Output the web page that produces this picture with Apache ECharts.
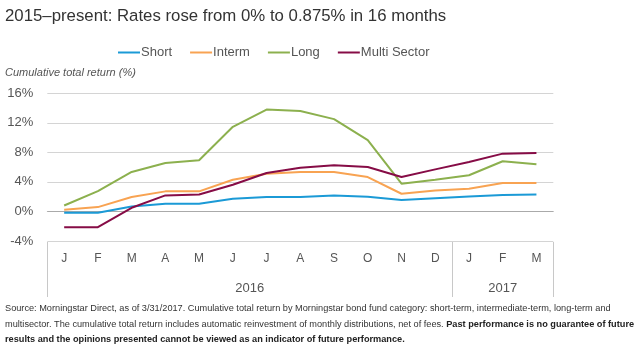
<!DOCTYPE html>
<html><head><meta charset="utf-8">
<script src="https://cdn.jsdelivr.net/npm/echarts@6/dist/echarts.min.js"></script>
<style>html,body{margin:0;padding:0;background:#fff}#c{width:640px;height:349px}</style>
</head><body><div id="c"></div>
<script>
const months = ['J','F','M','A','M','J','J','A','S','O','N','D','J','F','M'];
const years = ['2016','2017'];
const yearCenters = [6, 13.5];
const yearBounds = [0, 12, 15];
const yTicks = [-4, 0, 4, 8, 12, 16];
const shortVals = [-0.18, -0.18, 0.68, 1.05, 1.05, 1.72, 1.95, 1.95, 2.17, 2.0, 1.54, 1.8, 2.04, 2.22, 2.3];
const intermVals = [0.23, 0.59, 1.95, 2.72, 2.72, 4.3, 5.1, 5.35, 5.35, 4.66, 2.4, 2.85, 3.08, 3.85, 3.85];
const longVals = [0.81, 2.76, 5.35, 6.57, 6.93, 11.46, 13.8, 13.6, 12.5, 9.65, 3.76, 4.3, 4.9, 6.8, 6.4];
const multiVals = [-2.13, -2.13, 0.5, 2.17, 2.3, 3.62, 5.2, 5.93, 6.25, 6.02, 4.66, 5.7, 6.7, 7.83, 7.92];
const seriesNames = ['Short', 'Interm', 'Long', 'Multi Sector'];
const colors = ['#1b9ad6', '#f8a352', '#8cb04e', '#860c46'];

const FONT = 'Liberation Sans';
const chart = echarts.init(document.getElementById('c'), null, {renderer: 'canvas'});
const vals = [shortVals, intermVals, longVals, multiVals];
chart.setOption({
  animation: false,
  textStyle: {fontFamily: FONT},
  grid: {left: 47.3, right: 86.7, top: 93.3, bottom: 108},
  legend: {
    left: 113, top: 41, itemWidth: 22, itemHeight: 2, itemGap: 18, icon: 'rect',
    textStyle: {color: '#555', fontSize: 13, fontFamily: FONT, padding: [0, 0, 0, -4]},
    data: seriesNames
  },
  xAxis: [{
    type: 'category', data: months, boundaryGap: true,
    axisLine: {show: true, lineStyle: {color: '#c8c8c8', width: 1}},
    axisTick: {show: false},
    axisLabel: {color: '#555', fontSize: 12, margin: 12, interval: 0}
  }, {
    type: 'value', min: 0, max: 15, position: 'bottom', offset: 56,
    axisLine: {show: false},
    splitLine: {show: false},
    axisTick: {show: true, inside: true, length: 55, customValues: yearBounds, lineStyle: {color: '#c8c8c8'}},
    axisLabel: {show: true, inside: true, margin: 2, customValues: yearCenters, color: '#555', fontSize: 13,
      formatter: v => years[yearCenters.indexOf(v)]}
  }],
  yAxis: {
    type: 'value', min: yTicks[0], max: yTicks[yTicks.length-1], interval: 4,
    axisLine: {show: false}, axisTick: {show: false},
    axisLabel: {color: '#555', fontSize: 13, margin: 14, formatter: '{value}%'},
    splitLine: {lineStyle: {color: '#d4d4d4'}}
  },
  series: seriesNames.map((n, i) => ({
    name: n, type: 'line', data: vals[i], xAxisIndex: 0, symbol: 'none',
    lineStyle: {color: colors[i], width: 2}, itemStyle: {color: colors[i]},
    z: 3 + i,
    markLine: i === 0 ? {silent: true, symbol: 'none', label: {show: false},
      lineStyle: {color: '#aaaaaa', type: 'solid', width: 1}, data: [{yAxis: 0}], z: 1} : undefined
  })),
  graphic: [
    {type: 'text', left: 5, top: 8, style: {text: '2015–present: Rates rose from 0% to 0.875% in 16 months', fill: '#333', font: '16.8px "Liberation Sans"'}},
    {type: 'text', left: 5, top: 67, style: {text: 'Cumulative total return (%)', fill: '#555', font: 'italic 11px "Liberation Sans"'}},
    {type: 'text', left: 5, top: 301, style: {
      text: 'Source: Morningstar Direct, as of 3/31/2017. Cumulative total return by Morningstar bond fund category: short-term, intermediate-term, long-term and\n{n|multisector. The cumulative total return includes automatic reinvestment of monthly distributions, net of fees. }{b|Past performance is no guarantee of future}\n{b|results and the opinions presented cannot be viewed as an indicator of future performance.}',
      fill: '#333', font: '9.2px "Liberation Sans"', lineHeight: 15.5,
      rich: {n: {fontSize: 9.2, fontFamily: FONT, fill: '#333', lineHeight: 15.5}, b: {fontSize: 9.2, fontFamily: FONT, fontWeight: 'bold', fill: '#222', lineHeight: 15.5}}
    }}
  ]
});
</script></body></html>
